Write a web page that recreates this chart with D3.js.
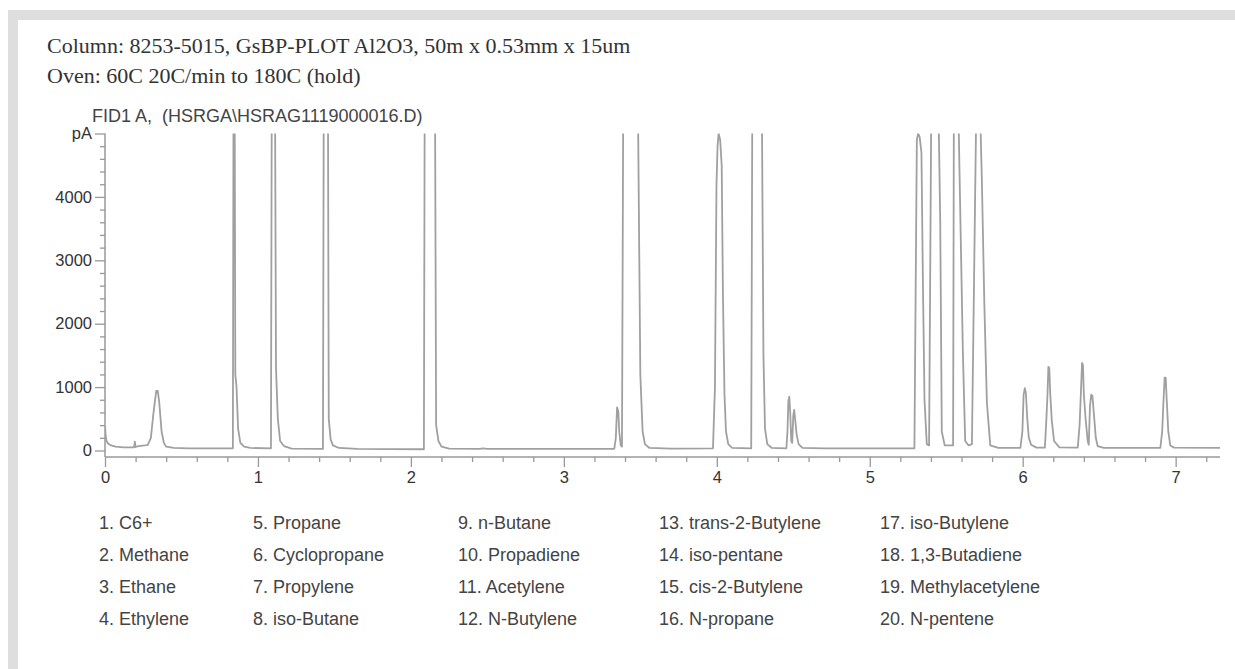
<!DOCTYPE html>
<html>
<head>
<meta charset="utf-8">
<script src="https://cdn.jsdelivr.net/npm/d3@7"></script>
<style>
  html, body { margin: 0; padding: 0; background: #ffffff; }
  svg { display: block; }
</style>
</head>
<body>
<svg id="chart" width="1235" height="669"></svg>
<script>
// ---------------- data ----------------
const headerLines = [
  "Column: 8253-5015, GsBP-PLOT Al2O3, 50m x 0.53mm x 15um",
  "Oven: 60C 20C/min to 180C (hold)"
];
const signalTitle = "FID1 A,  (HSRGA\\HSRAG1119000016.D)";

const xTickValues = [0, 1, 2, 3, 4, 5, 6, 7];
const xTickLabels = ["0", "1", "2", "3", "4", "5", "6", "7"];
const yTickValues = [0, 1000, 2000, 3000, 4000, 5000];
const yTickLabels = ["0", "1000", "2000", "3000", "4000", "pA"];

const compounds = [
  "C6+", "Methane", "Ethane", "Ethylene",
  "Propane", "Cyclopropane", "Propylene", "iso-Butane",
  "n-Butane", "Propadiene", "Acetylene", "N-Butylene",
  "trans-2-Butylene", "iso-pentane", "cis-2-Butylene", "N-propane",
  "iso-Butylene", "1,3-Butadiene", "Methylacetylene", "N-pentene"
];

// chromatogram trace: [retention time (min), signal (pA)]
const trace = [
  [0.000, 380], [0.004, 250], [0.010, 150], [0.020, 110], [0.040, 80], [0.070, 60],
  [0.120, 50], [0.190, 50], [0.195, 140], [0.200, 55], [0.220, 70], [0.260, 80],
  [0.280, 90], [0.300, 200], [0.315, 550], [0.325, 750], [0.335, 940], [0.345, 940],
  [0.355, 750], [0.370, 300], [0.385, 120], [0.400, 60], [0.450, 40], [0.550, 35],
  [0.700, 35], [0.836, 35],
  [0.840, 5300], [0.848, 5300], [0.852, 1200], [0.860, 1000], [0.870, 350],
  [0.885, 120], [0.910, 60], [0.950, 40], [1.085, 35],
  [1.090, 5300], [1.112, 5300], [1.118, 1300], [1.130, 500], [1.145, 150],
  [1.170, 70], [1.220, 30], [1.425, 25],
  [1.430, 5300], [1.458, 5300], [1.463, 500], [1.475, 180], [1.490, 80],
  [1.530, 40], [1.650, 25], [2.085, 20],
  [2.090, 5300], [2.158, 5300], [2.165, 400], [2.180, 150], [2.200, 60],
  [2.250, 30], [2.450, 25], [2.470, 35], [2.500, 25], [3.330, 28],
  [3.340, 200], [3.348, 680], [3.356, 620], [3.362, 300], [3.372, 80], [3.380, 60],
  [3.388, 5300], [3.485, 5300], [3.500, 1200], [3.515, 300], [3.530, 100],
  [3.560, 40], [3.700, 30], [3.975, 35],
  [3.988, 1000], [3.998, 4200], [4.005, 4800], [4.012, 5000], [4.022, 4900],
  [4.032, 4500], [4.040, 2500], [4.050, 900], [4.060, 300], [4.075, 100],
  [4.100, 40], [4.225, 35],
  [4.232, 5300], [4.295, 5300], [4.305, 1500], [4.315, 350], [4.330, 100],
  [4.360, 40], [4.455, 35],
  [4.462, 300], [4.468, 780], [4.474, 850], [4.480, 600], [4.487, 150], [4.493, 120],
  [4.500, 550], [4.506, 640], [4.512, 500], [4.522, 250], [4.535, 100], [4.560, 40],
  [4.700, 35], [5.292, 35],
  [5.308, 4900], [5.316, 5000], [5.326, 4950], [5.338, 4700], [5.348, 2580],
  [5.358, 800], [5.373, 100], [5.388, 80],
  [5.402, 5300], [5.450, 5300], [5.461, 3590], [5.471, 300], [5.490, 80],
  [5.545, 80], [5.550, 5300], [5.580, 5300], [5.590, 4000], [5.609, 1540],
  [5.624, 150], [5.646, 80],
  [5.668, 100], [5.696, 5300], [5.722, 5300], [5.733, 4270], [5.749, 2330],
  [5.766, 750], [5.788, 80], [5.840, 40], [5.985, 40],
  [5.998, 300], [6.006, 880], [6.014, 985], [6.021, 900], [6.030, 500],
  [6.040, 200], [6.055, 90], [6.090, 45], [6.145, 45],
  [6.155, 500], [6.162, 880], [6.168, 1320], [6.174, 1300], [6.180, 900],
  [6.190, 480], [6.205, 150], [6.240, 50], [6.360, 45],
  [6.372, 400], [6.380, 880], [6.388, 1380], [6.394, 1350], [6.400, 880],
  [6.412, 480], [6.425, 150], [6.432, 90], [6.440, 700], [6.448, 880],
  [6.456, 860], [6.466, 560], [6.478, 200], [6.490, 70], [6.530, 40],
  [6.900, 40], [6.912, 300], [6.920, 750], [6.928, 1150], [6.935, 1150],
  [6.942, 780], [6.952, 300], [6.965, 80], [6.990, 45], [7.290, 40]
];

// ---------------- drawing ----------------
const svg = d3.select("#chart");

// frame (light gray border on top and left)
svg.append("rect").attr("x", 8).attr("y", 10).attr("width", 1227).attr("height", 10).attr("fill", "#dedede");
svg.append("rect").attr("x", 8).attr("y", 10).attr("width", 10).attr("height", 659).attr("fill", "#dedede");

// header text
svg.selectAll("text.header").data(headerLines).enter().append("text")
  .attr("class", "header")
  .attr("x", 47)
  .attr("y", (d, i) => 53 + i * 30)
  .attr("font-family", "'Liberation Serif', 'Times New Roman', serif")
  .attr("font-size", 22)
  .attr("fill", "#333")
  .text(d => d);

svg.append("text")
  .attr("x", 92).attr("y", 122)
  .attr("font-family", "'Liberation Sans', Arial, sans-serif")
  .attr("font-size", 18)
  .style("white-space", "pre")
  .attr("fill", "#444")
  .text(signalTitle);

const x = d3.scaleLinear().domain([0, 7.29]).range([105, 1220]);
const y = d3.scaleLinear().domain([0, 5000]).range([450.5, 133.5]);
const axisY = y(0) + 6.5;
const axisColor = "#999";
const labelFont = "'Liberation Sans', Arial, sans-serif";

// clip for trace
svg.append("clipPath").attr("id", "plotclip")
  .append("rect").attr("x", x(0)).attr("y", y(5000))
  .attr("width", x(7.29) - x(0)).attr("height", axisY - y(5000));

// y axis minor ticks
const yMinor = d3.range(0, 5001, 200).filter(v => v % 1000 !== 0);
const gyMinor = svg.append("g").attr("transform", `translate(${x(0)},0)`)
  .call(d3.axisLeft(y).tickValues(yMinor).tickSize(5).tickFormat(""));
gyMinor.select(".domain").remove();
gyMinor.selectAll("line").attr("stroke", axisColor).attr("stroke-width", 1.3);

// y axis major ticks
const gy = svg.append("g").attr("transform", `translate(${x(0)},0)`)
  .call(d3.axisLeft(y).tickValues(yTickValues).tickSize(10).tickPadding(3)
    .tickFormat((d, i) => yTickLabels[i]));
gy.select(".domain").remove();
gy.selectAll("line").attr("stroke", axisColor).attr("stroke-width", 1.3);
gy.selectAll("text").attr("font-family", labelFont).attr("font-size", 16.5).attr("fill", "#333");

// y axis line
svg.append("line").attr("x1", x(0)).attr("x2", x(0)).attr("y1", y(5000)).attr("y2", axisY)
  .attr("stroke", axisColor).attr("stroke-width", 1.5);

// x axis minor ticks
const xMinor = d3.range(0, 7.3, 0.2).filter(v => Math.abs(v - Math.round(v)) > 0.01);
const gxMinor = svg.append("g").attr("transform", `translate(0,${axisY})`)
  .call(d3.axisBottom(x).tickValues(xMinor).tickSize(5).tickFormat(""));
gxMinor.select(".domain").remove();
gxMinor.selectAll("line").attr("stroke", axisColor).attr("stroke-width", 1.3);

// x axis major
const gx = svg.append("g").attr("transform", `translate(0,${axisY})`)
  .call(d3.axisBottom(x).tickValues(xTickValues).tickSize(10).tickPadding(4)
    .tickFormat((d, i) => xTickLabels[i]));
gx.select(".domain").attr("stroke", axisColor).attr("stroke-width", 1.5)
  .attr("d", `M${x(0)},0H${x(7.29)}`);
gx.selectAll("line").attr("stroke", axisColor).attr("stroke-width", 1.3);
gx.selectAll("text").attr("font-family", labelFont).attr("font-size", 16.5).attr("fill", "#333");

// trace
const line = d3.line().x(d => x(d[0])).y(d => y(d[1]));
svg.append("path")
  .datum(trace)
  .attr("clip-path", "url(#plotclip)")
  .attr("d", line)
  .attr("fill", "none")
  .attr("stroke", "#a0a0a0")
  .attr("stroke-width", 1.8)
  .attr("stroke-linejoin", "round");

// legend
const colX = [99, 253, 458, 659, 880];
svg.selectAll("text.legend").data(compounds).enter().append("text")
  .attr("class", "legend")
  .attr("x", (d, i) => colX[Math.floor(i / 4)])
  .attr("y", (d, i) => 523 + (i % 4) * 32)
  .attr("dy", "0.35em")
  .attr("font-family", labelFont)
  .attr("font-size", 18)
  .attr("fill", "#444")
  .text((d, i) => `${i + 1}. ${d}`);
</script>
</body>
</html>
